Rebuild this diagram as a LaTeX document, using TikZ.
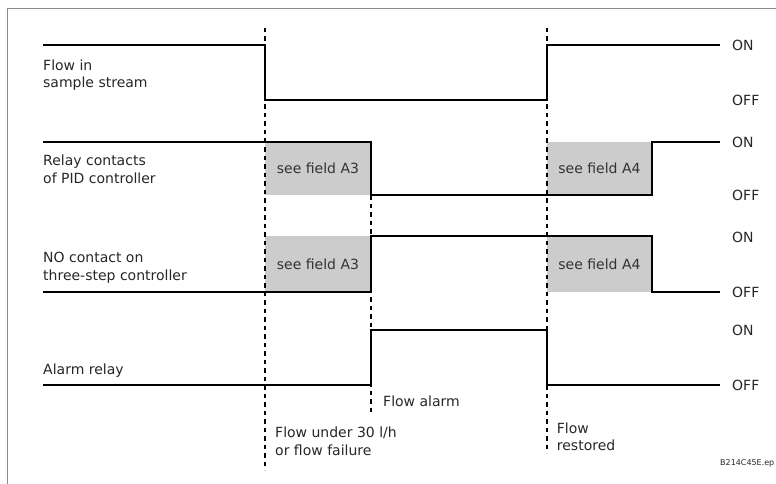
\documentclass[tikz,border=0pt]{standalone}
\usepackage{fontspec}
\setmainfont{DejaVu Sans}
\usetikzlibrary{positioning}

\begin{document}
\begin{tikzpicture}[x=1pt, y=-1pt, font=\fontsize{14}{17.5}\selectfont,
  sig/.style={line width=1.5pt, line join=miter},
  guide/.style={line width=1.2pt, dash pattern=on 4.5pt off 4pt},
  field/.style={fill=black!20, minimum width=105.5pt, inner sep=0pt,
                text=black!80},
  lbl/.style={anchor=base west, align=left, inner sep=0pt, text=black!85},
  lvl/.style={anchor=west, inner sep=0pt, text=black!85}]

\useasboundingbox (0,0) rectangle (776,484);
\draw[black!45, line width=1pt] (7.5,484) -- (7.5,9) -- (776,9);

% Shaded intervals where the contact state is set elsewhere.
\node[field, minimum height=53pt] (pidA3) at (318,168.5) {see field A3};
\node[field, minimum height=53pt] (pidA4) at (599.5,168.5) {see field A4};
\node[field, minimum height=56pt] (noA3)  at (318,264)   {see field A3};
\node[field, minimum height=56pt] (noA4)  at (599.5,264) {see field A4};

% Time markers: flow failure, alarm, flow restored.
\draw[guide] (265,28) -- (265,470);
\draw[guide] (371,195) -- (371,413);
\draw[guide] (547,28) -- (547,453);

% The four signals, high/low between ON and OFF levels.
\draw[sig] (43,45) -- (265,45) -- (265,100) -- (547,100) -- (547,45) -- (720,45);
\draw[sig] (43,142) -- (371,142) -- (371,195) -- (652,195) -- (652,142) -- (720,142);
\draw[sig] (43,292) -- (371,292) -- (371,236) -- (652,236) -- (652,292) -- (720,292);
\draw[sig] (43,385) -- (371,385) -- (371,330) -- (547,330) -- (547,385) -- (720,385);

% base of a two-line node is its last line
\node[lbl] (flow)  at (43,88)  {Flow in\\sample stream};
\node[lbl] (pid)   at (43,183) {Relay contacts\\of PID controller};
\node[lbl] (nocon) at (43,280) {NO contact on\\three-step controller};
\node[lbl] (alarm) at (43,374) {Alarm relay};

\node[lvl] (on1)  at (732,45)  {ON};
\node[lvl] (off1) at (732,100) {OFF};
\node[lvl] (on2)  at (732,142) {ON};
\node[lvl] (off2) at (732,195) {OFF};
\node[lvl] (on3)  at (732,237) {ON};
\node[lvl] (off3) at (732,292) {OFF};
\node[lvl] (on4)  at (732,330) {ON};
\node[lvl] (off4) at (732,385) {OFF};

\node[lbl] (falarm) at (383,406.7) {Flow alarm};
\node[lbl] (fail)   at (275,455)   {Flow under 30 l/h\\or flow failure};
\node[lbl] (rest)   at (556.7,450.7) {Flow\\restored};

\node[lvl, font=\fontsize{8}{9}\selectfont] (fig) at (720,463) {B214C45E.ep};
\end{tikzpicture}
\end{document}
